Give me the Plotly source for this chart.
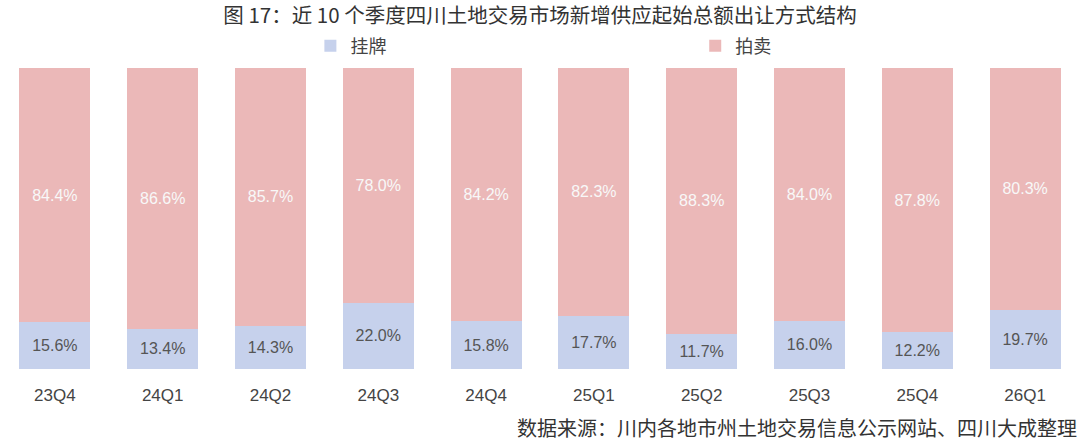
import plotly.graph_objects as go

# ------- data
quarters = ["23Q4", "24Q1", "24Q2", "24Q3", "24Q4", "25Q1", "25Q2", "25Q3", "25Q4", "26Q1"]
listing = [15.6, 13.4, 14.3, 22.0, 15.8, 17.7, 11.7, 16.0, 12.2, 19.7]   # 挂牌
auction = [84.4, 86.6, 85.7, 78.0, 84.2, 82.3, 88.3, 84.0, 87.8, 80.3]   # 拍卖

title = "图 17：近 10 个季度四川土地交易市场新增供应起始总额出让方式结构"
source = "数据来源：川内各地市州土地交易信息公示网站、四川大成整理"

CJK = "Noto Sans CJK SC, Noto Sans, sans-serif"
LATIN = "Liberation Sans, Noto Sans CJK SC, sans-serif"
BLUE = "#c6d1ec"
PINK = "#ebb8b8"

fig = go.Figure()
fig.add_trace(go.Bar(
    x=quarters, y=listing, name="挂牌",
    marker=dict(color=BLUE, line=dict(width=0)),
    text=[f"{v:.1f}%" for v in listing],
    textposition="inside", insidetextanchor="middle",
    textfont=dict(color="#555555", size=16, family=LATIN),
    legend="legend",
))
fig.add_trace(go.Bar(
    x=quarters, y=auction, name="拍卖",
    marker=dict(color=PINK, line=dict(width=0)),
    text=[f"{v:.1f}%" for v in auction],
    textposition="inside", insidetextanchor="middle",
    textfont=dict(color="#f8f8f8", size=16, family=LATIN),
    legend="legend2",
))

# two single-entry legends, spread like the original
legend_style = dict(
    orientation="h", xanchor="left", y=1.073, yanchor="middle",
    font=dict(size=18, color="#444444", family=CJK),
    bgcolor="rgba(0,0,0,0)", itemwidth=30,
)

fig.update_layout(
    width=1080, height=441,
    barmode="stack", bargap=0.34,
    paper_bgcolor="white", plot_bgcolor="white",
    margin=dict(l=1, r=1, t=68, b=72),
    font=dict(family=CJK, color="#444444"),
    uniformtext=dict(minsize=10, mode="show"),
    showlegend=True,
    title=dict(
        text=title, x=0.5, xanchor="center", y=0.964, yanchor="middle",
        font=dict(size=20.5, color="#333333", family=CJK),
    ),
    legend=dict(x=0.287, **legend_style),
    legend2=dict(x=0.644, **legend_style),
    xaxis=dict(
        showline=False, showgrid=False, ticks="",
        tickfont=dict(size=17, color="#444444", family=LATIN),
        ticklabelstandoff=14,
    ),
    yaxis=dict(range=[0, 100], visible=False, showgrid=False),
    annotations=[dict(
        text=source, xref="paper", yref="paper", x=1.0, y=-0.196,
        xanchor="right", yanchor="middle", showarrow=False,
        font=dict(size=20, color="#333333", family=CJK),
    )],
)

fig.write_html("out.html", config={"displayModeBar": False},
               post_script="document.body.style.margin='0';")
